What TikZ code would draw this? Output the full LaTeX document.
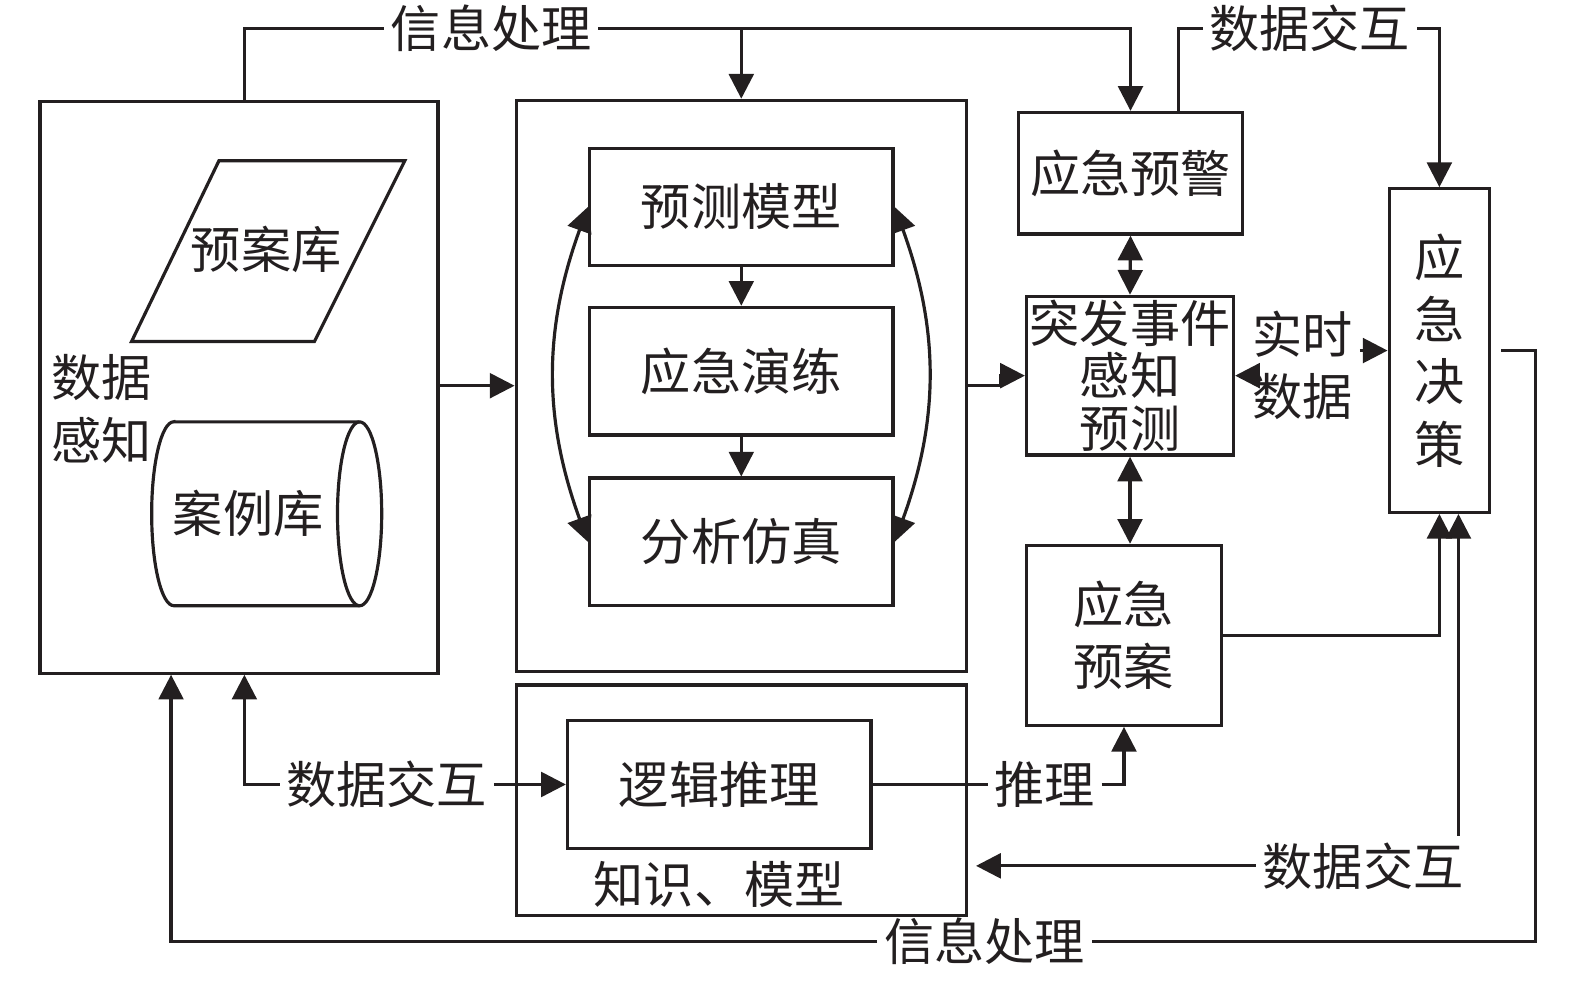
\documentclass[tikz,border=0pt]{standalone}
\usepackage{fontspec}
\newfontfamily\cjk{Noto Sans CJK SC}
\usetikzlibrary{arrows.meta, calc}
\definecolor{ink}{RGB}{35,31,32}

\tikzset{
  box/.style={draw, line width=0.9pt, inner sep=0pt, align=center},
  lbl/.style={inner sep=1.5pt, align=center},
  arr/.style={-{Triangle[length=7pt,width=7pt]}},
  dbl/.style={{Triangle[length=7pt,width=7pt]}-{Triangle[length=7pt,width=7pt]}},
}

\begin{document}
\begin{tikzpicture}[x=0.01cm, y=-0.01cm, line width=0.9pt, color=ink,
    font={\cjk\fontsize{14.2pt}{17.6pt}\selectfont}]
  \useasboundingbox (0,0) rectangle (1568,976);

  % data sensing block
  \node[box, minimum width=3.96cm, minimum height=5.69cm] (sjgz) at (238,385.5) {};
  \node[lbl, align=left] (sjgzt) at (101,407) {数据\\感知};
  % plan library as a parallelogram
  \draw (218,160) -- (403,160) -- (313,340) -- (131,340) -- cycle;
  \node (yak) at (265,248) {预案库};
  % case library drawn as a lying cylinder
  \node (alk) at (247,511) {案例库};
  \draw (173,420) -- (358,420)
    arc[start angle=90, end angle=-90, x radius=0.22cm, y radius=0.915cm]
    -- (173,603)
    arc[start angle=270, end angle=90, x radius=0.22cm, y radius=0.915cm] -- cycle;
  \draw (358,420) arc[start angle=90, end angle=270, x radius=0.22cm, y radius=0.915cm];

  % model block
  \node[box, minimum width=4.48cm, minimum height=5.68cm] (mid) at (738,384) {};
  \node[box, minimum width=3.02cm, minimum height=1.16cm] (ycmx) at (738,206) {预测模型};
  \node[box, minimum width=3.02cm, minimum height=1.27cm] (yjyl) at (738,369.5) {应急演练};
  \node[box, minimum width=3.02cm, minimum height=1.27cm] (fxfz) at (738,539.5) {分析仿真};

  % knowledge block
  \node[box, minimum width=4.48cm, minimum height=2.29cm] (zsmx) at (738,796.5) {};
  \node[box, minimum width=3.02cm, minimum height=1.28cm] (ljtl) at (716,781) {逻辑推理};
  \node[lbl] (zsmxt) at (716,880) {知识、模型};

  % right column
  \node[box, minimum width=2.23cm, minimum height=1.21cm] (yjyj) at (1125.5,172.5) {应急预警};
  \node[box, minimum width=2.06cm, minimum height=1.58cm,
        font={\cjk\fontsize{14.2pt}{14.8pt}\selectfont}] (tfsj) at (1125,374) {突发事件\\感知\\预测};
  \node[box, minimum width=1.94cm, minimum height=1.79cm] (yjya) at (1119,632.5) {应急\\预案};
  \node[box, minimum width=1.0cm, minimum height=3.22cm] (yjjc) at (1433,349) {应\\急\\决\\策};

  % line labels
  \node[lbl] (xxcl1) at (489,28) {信息处理};
  \node[lbl] (sjjh1) at (1304,28) {数据交互};
  \node[lbl] (ssj) at (1297,364) {实时\\数据};
  \node[lbl] (sjjh2) at (385,781) {数据交互};
  \node[lbl] (tl) at (1040,781) {推理};
  \node[lbl] (sjjh3) at (1357,862) {数据交互};
  \node[lbl] (xxcl2) at (980,937) {信息处理};

  \coordinate (c1) at ($(yjyj.north)+(47.5,0)$);
  \coordinate (c2) at ($(yjjc.south)+(19,0)$);
  \coordinate (c3) at ($(sjgz.south west)+(132,0)$);
  \coordinate (c4) at ($(sjgz.south west)+(205,0)$);
  \coordinate (c5) at ($(ssj.west |- tfsj.east)+(14,0)$);

  % top connectors
  \draw (c4 |- sjgz.north) |- (xxcl1.west);
  \draw[arr] (xxcl1.east) -| (yjyj.north);
  \draw[arr] (xxcl1.east -| mid.north) -- (mid.north);
  \draw (c1) |- (sjjh1.west);
  \draw[arr] (sjjh1.east) -| (yjjc.north);

  % inside the model block
  \draw[arr] (ycmx.south) -- (yjyl.north);
  \draw[arr] (yjyl.south) -- (fxfz.north);
  \draw[dbl] (ycmx.west) to[bend right=20] (fxfz.west);
  \draw[dbl] (ycmx.east) to[bend left=20] (fxfz.east);

  % middle row
  \draw[arr] (sjgz.east |- mid.west) -- (mid.west);
  \draw[arr] (mid.east) -- ++(32,0) |- (tfsj.west);
  \draw[dbl] (yjyj.south) -- (tfsj.north);
  \draw[dbl] (tfsj.south) -- (tfsj.south |- yjya.north);
  \draw[arr] (ssj.east |- yjjc.west) -- (yjjc.west);
  \draw[arr] (c5) -- (tfsj.east);
  \draw[arr] (yjya.east) -| (yjjc.south);

  % bottom connectors
  \draw[arr, shorten >=0.08cm] (sjjh3.west) -- (sjjh3.west -| zsmx.east);
  \draw[arr] (c2 |- sjjh3.north) -- (c2);
  \draw[shorten <=0.1cm] (yjjc.east) -- ++(44,0) |- (xxcl2.east);
  \draw[arr] (xxcl2.west) -| (c3);
  \draw[arr] (sjjh2.east) -- (ljtl.west);
  \draw[arr] (sjjh2.west) -| (c4);
  \draw (ljtl.east) -- (tl.west);
  \draw[arr] (tl.east) -| (yjya.south);
\end{tikzpicture}
\end{document}
